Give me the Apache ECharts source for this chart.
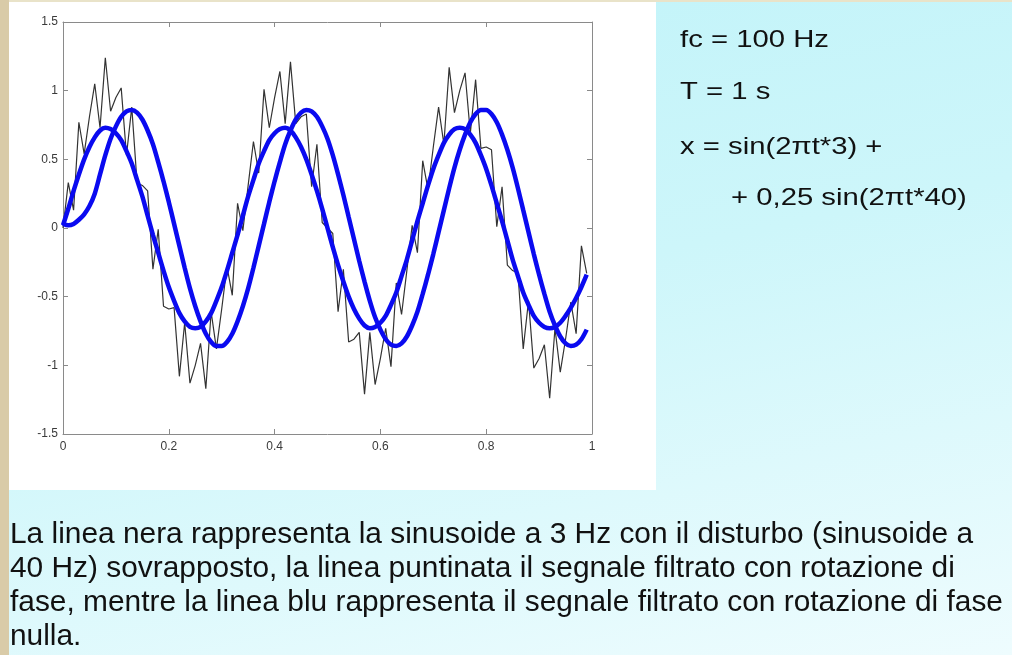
<!DOCTYPE html>
<html>
<head>
<meta charset="utf-8">
<script src="https://cdn.jsdelivr.net/npm/echarts@6/dist/echarts.min.js"></script>
<style>
html,body{margin:0;padding:0;}
body{width:1012px;height:655px;overflow:hidden;background:linear-gradient(168deg,#c0f3f9 0%,#cdf6fa 45%,#eefcfe 100%);}
#c{width:1012px;height:655px;}
</style>
</head>
<body>
<div id="c"></div>
<script>
// sample rate (Hz) and duration from the chart text
const FS = 100;
// black line: 3 Hz sinusoid + 40 Hz disturbance (100 samples, t = 0 .. 0.99 s)
const noisySignal = [
 0.00, 0.33, 0.13, 0.77, 0.54, 0.81, 1.05, 0.73, 1.24, 0.85,
 0.95, 1.02, 0.53, 0.88, 0.33, 0.31, 0.27,-0.30,-0.01,-0.57,
-0.59,-0.58,-1.08,-0.69,-1.13,-1.00,-0.84,-1.17,-0.61,-0.88,
-0.59,-0.28,-0.49, 0.18,-0.02, 0.31, 0.63, 0.40, 1.01, 0.73,
 0.95, 1.14, 0.76, 1.21, 0.76, 0.81, 0.83, 0.30, 0.61, 0.04,
 0.00,-0.04,-0.61,-0.30,-0.83,-0.81,-0.76,-1.21,-0.76,-1.14,
-0.95,-0.73,-1.01,-0.40,-0.63,-0.31, 0.02,-0.18, 0.49, 0.28,
 0.59, 0.88, 0.61, 1.17, 0.84, 1.00, 1.13, 0.69, 1.08, 0.58,
 0.59, 0.57, 0.01, 0.30,-0.27,-0.31,-0.33,-0.88,-0.53,-1.02,
-0.95,-0.85,-1.24,-0.73,-1.05,-0.81,-0.54,-0.77,-0.13,-0.33
];
// thick blue: filtered with zero phase rotation
const zeroPhaseFiltered = [
 0.02, 0.14, 0.27, 0.39, 0.50, 0.59, 0.66, 0.71, 0.73, 0.72,
 0.69, 0.64, 0.56, 0.47, 0.35, 0.23, 0.09,-0.05,-0.18,-0.31,
-0.43,-0.53,-0.62,-0.68,-0.72,-0.73,-0.72,-0.68,-0.62,-0.53,
-0.43,-0.31,-0.18,-0.05, 0.09, 0.23, 0.35, 0.47, 0.56, 0.64,
 0.69, 0.72, 0.73, 0.71, 0.66, 0.59, 0.50, 0.39, 0.27, 0.14,
 0.00,-0.14,-0.27,-0.39,-0.50,-0.59,-0.66,-0.71,-0.73,-0.72,
-0.69,-0.64,-0.56,-0.47,-0.35,-0.23,-0.09, 0.05, 0.18, 0.31,
 0.43, 0.53, 0.62, 0.68, 0.72, 0.73, 0.72, 0.68, 0.62, 0.53,
 0.43, 0.31, 0.18, 0.05,-0.09,-0.23,-0.35,-0.47,-0.56,-0.64,
-0.69,-0.72,-0.73,-0.72,-0.69,-0.64,-0.58,-0.51,-0.43,-0.34
];
// thick blue: filtered with phase rotation (delayed)
const phaseShiftedFiltered = [
 0.03, 0.02, 0.03, 0.06, 0.10, 0.16, 0.25, 0.39, 0.53, 0.65,
 0.74, 0.81, 0.85, 0.86, 0.84, 0.79, 0.71, 0.61, 0.48, 0.34,
 0.19, 0.03,-0.13,-0.29,-0.44,-0.57,-0.68,-0.77,-0.83,-0.86,
-0.86,-0.83,-0.77,-0.68,-0.57,-0.44,-0.29,-0.13, 0.03, 0.19,
 0.34, 0.48, 0.61, 0.71, 0.79, 0.84, 0.86, 0.85, 0.81, 0.74,
 0.65, 0.53, 0.39, 0.24, 0.08,-0.08,-0.24,-0.39,-0.53,-0.65,
-0.74,-0.81,-0.85,-0.86,-0.84,-0.79,-0.71,-0.61,-0.48,-0.34,
-0.19,-0.03, 0.13, 0.29, 0.44, 0.57, 0.68, 0.77, 0.83, 0.86,
 0.86, 0.83, 0.77, 0.68, 0.57, 0.44, 0.29, 0.13,-0.03,-0.19,
-0.34,-0.48,-0.61,-0.71,-0.79,-0.84,-0.86,-0.85,-0.81,-0.74
];
// axis ticks
const xTick = {min: 0, max: 1, interval: 0.2};
const yTick = {min: -1.5, max: 1.5, interval: 0.5};
// texts
const sideText = ['fc = 100 Hz', 'T = 1 s', 'x = sin(2\u03c0t*3) +', '+ 0,25 sin(2\u03c0t*40)'];
const captionLines = [
 'La linea nera rappresenta la sinusoide a 3 Hz con il disturbo (sinusoide a',
 '40 Hz) sovrapposto, la linea puntinata il segnale filtrato con rotazione di',
 'fase, mentre la linea blu rappresenta il segnale filtrato con rotazione di fase',
 'nulla.'
];

const toPairs = arr => arr.map((v, i) => [i / FS, v]);

const chart = echarts.init(document.getElementById('c'), null, {renderer: 'canvas'});
const axisColor = '#8a8a8a';
const labelStyle = {color: '#3a3a3a', fontFamily: 'Liberation Sans', fontSize: 12};

const sidePos = [[680, 40], [680, 92], [680, 147], [731, 198]];
const graphics = [
  {type: 'rect', z: -10, silent: true, shape: {x: 0, y: 0, width: 9, height: 655}, style: {fill: '#d9cba8'}},
  {type: 'rect', z: -10, silent: true, shape: {x: 9, y: 0, width: 1003, height: 2}, style: {fill: '#e9e3c9'}},
  {type: 'rect', z: -9, silent: true, shape: {x: 9, y: 2, width: 647, height: 488}, style: {fill: '#ffffff'}}
];
sideText.forEach((t, i) => {
  graphics.push({type: 'text', silent: true, x: sidePos[i][0], y: sidePos[i][1], scaleX: 1.22,
    style: {text: t, x: 0, y: 0, font: '24px "Liberation Sans"', fill: '#111111',
      align: 'left', textAlign: 'left', verticalAlign: 'middle', textVerticalAlign: 'middle'}});
});
const capY = [535, 569, 603, 637];
captionLines.forEach((t, i) => {
  graphics.push({type: 'text', silent: true, x: 10, y: capY[i], scaleX: 1.03,
    style: {text: t, x: 0, y: 0, font: '29px "Liberation Sans"', fill: '#111111',
      align: 'left', textAlign: 'left', verticalAlign: 'middle', textVerticalAlign: 'middle'}});
});

const tickCommon = {show: true, inside: true, length: 5, lineStyle: {color: axisColor}};
chart.setOption({
  backgroundColor: 'transparent',
  animation: false,
  graphic: {elements: graphics},
  grid: {left: 63, right: 420, top: 22, bottom: 221, containLabel: false, outerBoundsMode: 'none', show: false},
  xAxis: [
    {type: 'value', position: 'bottom', min: xTick.min, max: xTick.max, interval: xTick.interval,
     axisLine: {show: true, onZero: false, lineStyle: {color: axisColor}}, axisTick: tickCommon,
     splitLine: {show: false}, axisLabel: Object.assign({margin: 7}, labelStyle)},
    {type: 'value', position: 'top', min: xTick.min, max: xTick.max, interval: xTick.interval,
     axisLine: {show: true, onZero: false, lineStyle: {color: axisColor}}, axisTick: tickCommon,
     splitLine: {show: false}, axisLabel: {show: false}}
  ],
  yAxis: [
    {type: 'value', position: 'left', min: yTick.min, max: yTick.max, interval: yTick.interval,
     axisLine: {show: true, onZero: false, lineStyle: {color: axisColor}}, axisTick: tickCommon,
     splitLine: {show: false}, axisLabel: Object.assign({margin: 5}, labelStyle)},
    {type: 'value', position: 'right', min: yTick.min, max: yTick.max, interval: yTick.interval,
     axisLine: {show: true, onZero: false, lineStyle: {color: axisColor}}, axisTick: tickCommon,
     splitLine: {show: false}, axisLabel: {show: false}}
  ],
  series: [
    {type: 'line', name: 'x', data: toPairs(noisySignal), showSymbol: false, symbol: 'none',
     lineStyle: {color: '#333333', width: 1.2}, z: 2},
    {type: 'line', name: 'zero phase', data: toPairs(zeroPhaseFiltered), showSymbol: false, symbol: 'none',
     smooth: 0.3, lineStyle: {color: '#0a0af0', width: 4.5}, z: 3},
    {type: 'line', name: 'phase shifted', data: toPairs(phaseShiftedFiltered), showSymbol: false, symbol: 'none',
     smooth: 0.3, lineStyle: {color: '#0a0af0', width: 4.5}, z: 3}
  ]
});
</script>
</body>
</html>
